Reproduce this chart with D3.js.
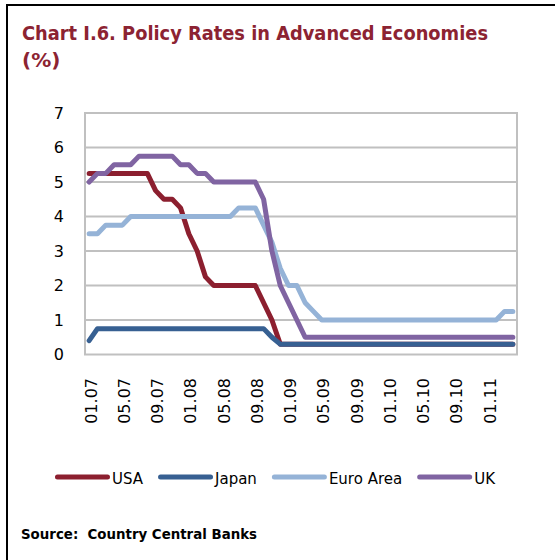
<!DOCTYPE html>
<html>
<head>
<meta charset="utf-8">
<script src="https://cdn.jsdelivr.net/npm/d3@7"></script>
<style>
  html, body { margin: 0; padding: 0; background: #fff; }
  svg { display: block; }
</style>
</head>
<body>
<svg id="chart" width="555" height="560"></svg>
<script>
const categories = [
  "01.07","02.07","03.07","04.07","05.07","06.07","07.07","08.07","09.07","10.07","11.07","12.07",
  "01.08","02.08","03.08","04.08","05.08","06.08","07.08","08.08","09.08","10.08","11.08","12.08",
  "01.09","02.09","03.09","04.09","05.09","06.09","07.09","08.09","09.09","10.09","11.09","12.09",
  "01.10","02.10","03.10","04.10","05.10","06.10","07.10","08.10","09.10","10.10","11.10","12.10",
  "01.11","02.11","03.11","04.11"
];
const tickLabels = ["01.07","05.07","09.07","01.08","05.08","09.08","01.09","05.09","09.09","01.10","05.10","09.10","01.11"];
const yTicks = [0,1,2,3,4,5,6,7];

const usa = [
  5.25,5.25,5.25,5.25,5.25,5.25,5.25,5.25,4.75,4.5,4.5,4.25,
  3.5,3.0,2.25,2.0,2.0,2.0,2.0,2.0,2.0,1.5,1.0,0.3,
  0.3,0.3,0.3,0.3,0.3,0.3,0.3,0.3,0.3,0.3,0.3,0.3,
  0.3,0.3,0.3,0.3,0.3,0.3,0.3,0.3,0.3,0.3,0.3,0.3,
  0.3,0.3,0.3,0.3
];
const japan = [
  0.4,0.75,0.75,0.75,0.75,0.75,0.75,0.75,0.75,0.75,0.75,0.75,
  0.75,0.75,0.75,0.75,0.75,0.75,0.75,0.75,0.75,0.75,0.5,0.3,
  0.3,0.3,0.3,0.3,0.3,0.3,0.3,0.3,0.3,0.3,0.3,0.3,
  0.3,0.3,0.3,0.3,0.3,0.3,0.3,0.3,0.3,0.3,0.3,0.3,
  0.3,0.3,0.3,0.3
];
const euro = [
  3.5,3.5,3.75,3.75,3.75,4.0,4.0,4.0,4.0,4.0,4.0,4.0,
  4.0,4.0,4.0,4.0,4.0,4.0,4.25,4.25,4.25,3.75,3.25,2.5,
  2.0,2.0,1.5,1.25,1.0,1.0,1.0,1.0,1.0,1.0,1.0,1.0,
  1.0,1.0,1.0,1.0,1.0,1.0,1.0,1.0,1.0,1.0,1.0,1.0,
  1.0,1.0,1.25,1.25
];
const uk = [
  5.0,5.25,5.25,5.5,5.5,5.5,5.75,5.75,5.75,5.75,5.75,5.5,
  5.5,5.25,5.25,5.0,5.0,5.0,5.0,5.0,5.0,4.5,3.0,2.0,
  1.5,1.0,0.5,0.5,0.5,0.5,0.5,0.5,0.5,0.5,0.5,0.5,
  0.5,0.5,0.5,0.5,0.5,0.5,0.5,0.5,0.5,0.5,0.5,0.5,
  0.5,0.5,0.5,0.5
];
const seriesNames = ["USA","Japan","Euro Area","UK"];
const seriesColors = ["#8C1F2F","#376092","#95B3D7","#8064A2"];
const seriesValues = [usa, japan, euro, uk];

const svg = d3.select("#chart");
const plot = {left: 85, right: 517, top: 113, bottom: 354.5};

// frame
svg.append("line").attr("x1",6).attr("x2",555).attr("y1",5).attr("y2",5)
  .attr("stroke","#000").attr("stroke-width",2);
svg.append("line").attr("x1",7).attr("x2",7).attr("y1",4).attr("y2",560)
  .attr("stroke","#000").attr("stroke-width",2);

// title
const titleFont = "'DejaVu Sans', Verdana, sans-serif";
const t1 = svg.append("text").attr("x",22).attr("y",40)
  .attr("font-family",titleFont).attr("font-weight","bold").attr("font-size",20)
  .attr("fill","#8C2332").text("Chart I.6. Policy Rates in Advanced Economies");
const w1 = t1.node().getComputedTextLength();
if (w1 > 466) t1.attr("textLength",466).attr("lengthAdjust","spacingAndGlyphs");
svg.append("text").attr("x",22).attr("y",67)
  .attr("font-family",titleFont).attr("font-weight","bold").attr("font-size",20)
  .attr("fill","#8C2332").text("(%)");

// scales
const x = d3.scaleBand().domain(categories).range([plot.left, plot.right]).padding(0);
const y = d3.scaleLinear().domain([0,7]).range([plot.bottom, plot.top]);
const xc = d => x(d) + x.bandwidth()/2;

// gridlines
svg.append("g").selectAll("line").data(yTicks.filter(v => v > 0)).join("line")
  .attr("x1",plot.left).attr("x2",plot.right)
  .attr("y1",d => y(d)).attr("y2",d => y(d))
  .attr("stroke","#C0C0C0").attr("stroke-width",2);
// plot border
svg.append("rect").attr("x",plot.left).attr("y",plot.top)
  .attr("width",plot.right-plot.left).attr("height",plot.bottom-plot.top)
  .attr("fill","none").attr("stroke","#C0C0C0").attr("stroke-width",2);

const axisFont = "'DejaVu Sans', Verdana, sans-serif";
// y axis
const yAxis = d3.axisLeft(y).tickValues(yTicks).tickSize(0).tickPadding(21).tickFormat(d3.format("d"));
const gy = svg.append("g").attr("transform",`translate(${plot.left},0)`).call(yAxis);
gy.select(".domain").remove();
gy.selectAll("text").attr("font-family",axisFont).attr("font-size",16).attr("fill","#000");

// x axis labels
const xAxis = d3.axisBottom(x).tickValues(tickLabels).tickSize(0);
const gx = svg.append("g").attr("transform",`translate(0,${plot.bottom})`).call(xAxis);
gx.select(".domain").remove();
gx.selectAll(".tick text")
  .attr("font-family",axisFont).attr("font-size",16).attr("fill","#000")
  .attr("text-anchor","end")
  .attr("transform","translate(2,23.5) rotate(-90)")
  .attr("x",0).attr("y",0).attr("dy","0.35em");

// lines
const line = d3.line().x((d,i) => xc(categories[i])).y(d => y(d));
svg.append("g").selectAll("path").data(seriesValues).join("path")
  .attr("d", d => line(d))
  .attr("fill","none")
  .attr("stroke",(d,i) => seriesColors[i])
  .attr("stroke-width",5)
  .attr("stroke-linejoin","round")
  .attr("stroke-linecap","round");

// legend
const legendFont = "'DejaVu Sans', Verdana, sans-serif";
const lg = svg.append("g");
const items = [];
let cursor = 0;
seriesNames.forEach((name,i) => {
  const g = lg.append("g");
  g.append("line").attr("x1",2.5).attr("x2",52.5).attr("y1",0).attr("y2",0)
    .attr("stroke",seriesColors[i]).attr("stroke-width",5).attr("stroke-linecap","round");
  const t = g.append("text").attr("x",57).attr("y",7)
    .attr("font-family",legendFont).attr("font-size",15).attr("fill","#000").text(name);
  const w = 57 + t.node().getComputedTextLength();
  items.push({g, start: cursor});
  cursor += w + 15;
});
const totalW = cursor - 15;
const lgStart = 275 - totalW/2;
items.forEach(it => it.g.attr("transform",`translate(${lgStart + it.start},477)`));

// source
svg.append("text").attr("x",21).attr("y",539)
  .attr("font-family","'DejaVu Sans', Verdana, sans-serif").attr("font-weight","bold")
  .attr("font-size",13.5).attr("fill","#000")
  .attr("xml:space","preserve")
  .text("Source:  Country Central Banks")
  .each(function(){ if (this.getComputedTextLength() > 236) d3.select(this).attr("textLength",236).attr("lengthAdjust","spacingAndGlyphs"); });
</script>
</body>
</html>
